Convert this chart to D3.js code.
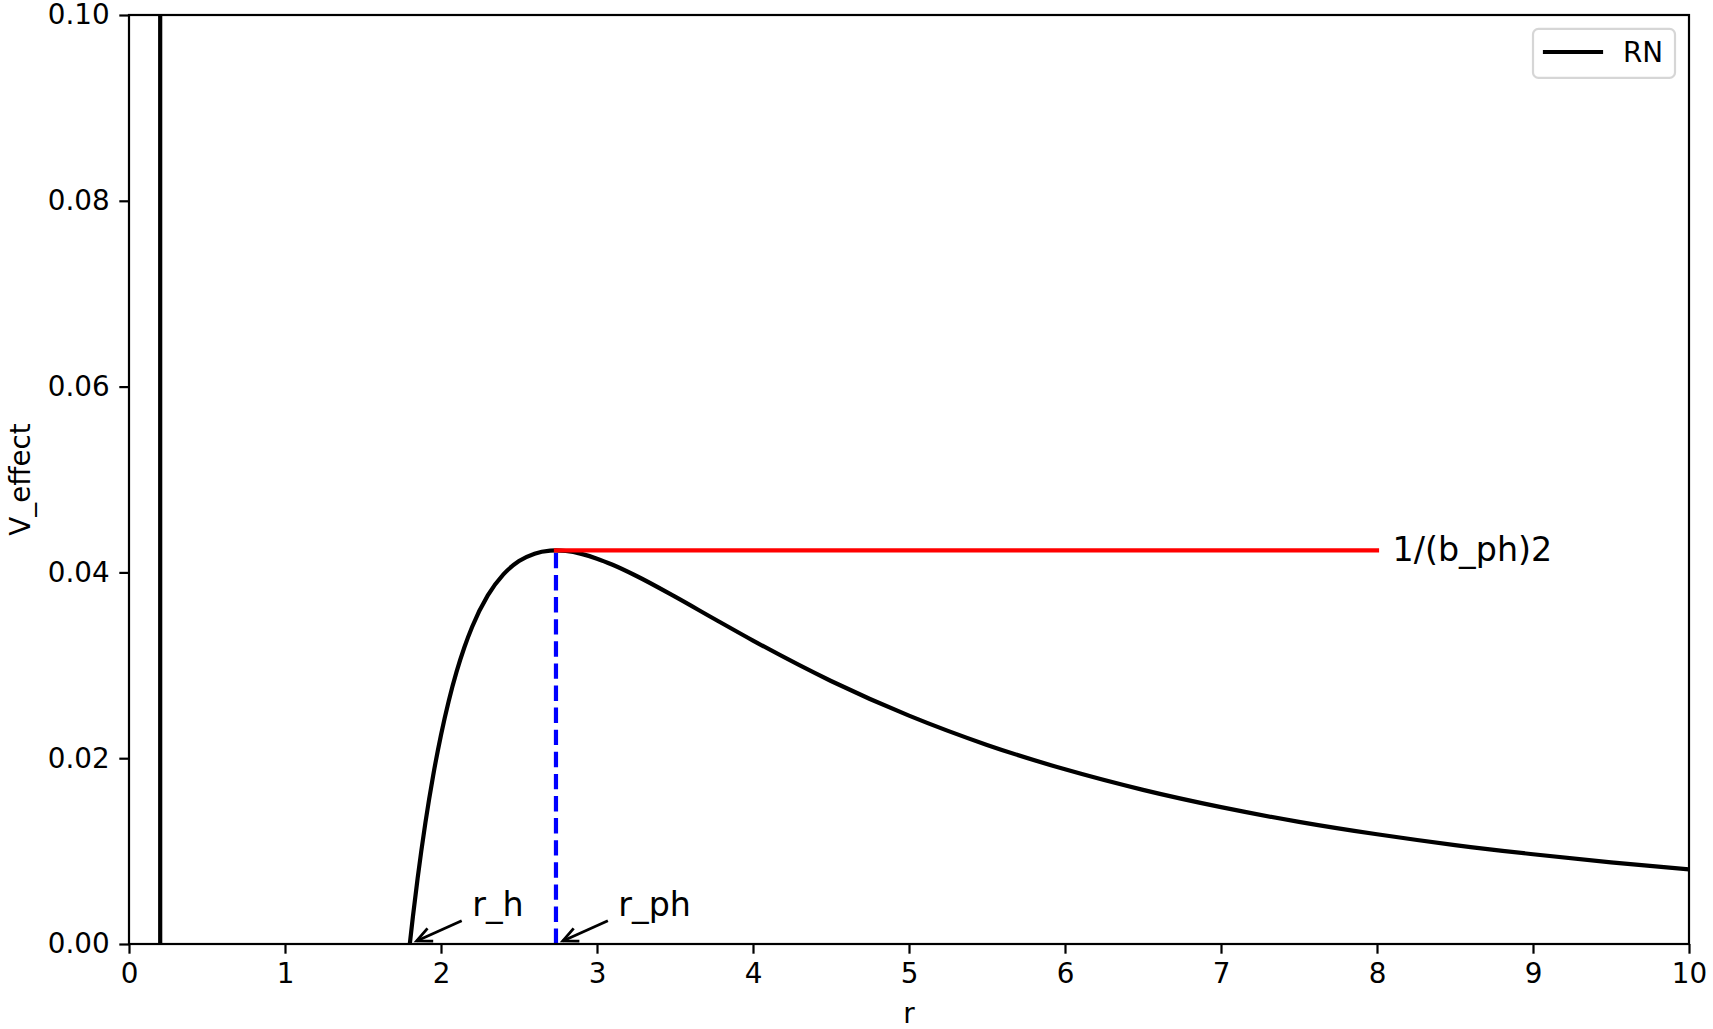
<!DOCTYPE html>
<html>
<head>
<meta charset="utf-8">
<script src="https://cdn.jsdelivr.net/npm/d3@7"></script>
<style>
  body { margin: 0; background: #fff; }
  text { font-family: "DejaVu Sans", sans-serif; }
</style>
</head>
<body>
<script>
// V_effect of the RN curve
const rVals = [0.18, 0.2, 0.3, 0.5, 1.0, 1.5, 1.7, 1.8, 1.82, 1.85, 1.9, 1.95, 2.0, 2.05, 2.1, 2.15, 2.2, 2.3, 2.4, 2.5, 2.6, 2.7, 2.737, 2.8, 2.9, 3.0, 3.1, 3.25, 3.5, 3.75, 4.0, 4.5, 5.0, 5.5, 6.0, 6.5, 7.0, 7.5, 8.0, 8.5, 9.0, 9.5, 10.0];
const vVals = [30.9, 0, -18.5, -6.24, -0.64, -0.077, -0.018, 0, 0.00295, 0.00704, 0.01305, 0.01816, 0.0225, 0.02619, 0.02931, 0.03194, 0.03415, 0.03752, 0.03979, 0.04122, 0.04202, 0.04234, 0.04237, 0.0423, 0.04199, 0.04148, 0.04082, 0.03964, 0.03739, 0.03501, 0.03266, 0.02831, 0.02458, 0.02143, 0.0188, 0.01659, 0.01473, 0.01315, 0.01181, 0.01065, 0.00966, 0.00879, 0.00804];

const rPh = 2.737, vPh = 0.04237, rH = 1.8, hLineEnd = 8;
const xTicks = [0, 1, 2, 3, 4, 5, 6, 7, 8, 9, 10];
const yTicks = [0, 0.02, 0.04, 0.06, 0.08, 0.10];
const labelText = "1/(b_ph)2";
const notes = [
  { label: "r_h", x: rH, tx: 2.2, ty: 0.003 },
  { label: "r_ph", x: rPh, tx: 3.137, ty: 0.003 }
];

const W = 1713, H = 1029;
const pLeft = 129, pRight = 1689, pTop = 15, pBottom = 944;
const fs = 27.8, fsBig = 33.3, lw = 4.2;

const svg = d3.select("body").append("svg")
  .attr("width", W).attr("height", H);

const x = d3.scaleLinear().domain([0, 10]).range([pLeft, pRight]);
const y = d3.scaleLinear().domain([0, 0.1]).range([pBottom, pTop]);

svg.append("defs").append("clipPath").attr("id", "plot")
  .append("rect").attr("x", pLeft).attr("y", pTop)
  .attr("width", pRight - pLeft).attr("height", pBottom - pTop);

const g = svg.append("g").attr("clip-path", "url(#plot)");

// main curve
const pts = rVals.map((r, i) => [r, vVals[i]]);
g.append("path")
  .datum(pts)
  .attr("fill", "none")
  .attr("stroke", "#000")
  .attr("stroke-width", lw)
  .attr("stroke-linejoin", "round")
  .attr("d", d3.line().curve(d3.curveMonotoneX).x(d => x(d[0])).y(d => y(d[1])));

// dashed blue line at r_ph
g.append("line")
  .attr("x1", x(rPh)).attr("x2", x(rPh))
  .attr("y1", y(0)).attr("y2", y(vPh))
  .attr("stroke", "#0000ff").attr("stroke-width", lw)
  .attr("stroke-dasharray", "15.4,6.7");

// red line at the peak
g.append("line")
  .attr("x1", x(rPh)).attr("x2", x(hLineEnd))
  .attr("y1", y(vPh)).attr("y2", y(vPh))
  .attr("stroke", "#ff0000").attr("stroke-width", lw)
  .attr("stroke-linecap", "square");

svg.append("text")
  .attr("x", x(8.1)).attr("y", y(vPh)).attr("dy", "0.32em")
  .attr("font-size", fsBig).text(labelText);

// annotations with arrows
notes.forEach(n => {
  const px = x(n.x), py = y(0);
  const ax = x(n.tx), ay = y(n.ty);
  const dx = ax - px, dy = ay - py, len = Math.hypot(dx, dy);
  const ux = dx / len, uy = dy / len;
  const tipX = px + ux * 7.5, tipY = py + uy * 7.5;
  const tailX = ax - ux * 11.5, tailY = ay - uy * 11.5;
  svg.append("line")
    .attr("x1", tailX).attr("y1", tailY).attr("x2", tipX).attr("y2", tipY)
    .attr("stroke", "#000").attr("stroke-width", 2.8);
  const hl = 15, hw = 7;
  const bx = tipX + ux * hl, by = tipY + uy * hl;
  svg.append("path")
    .attr("d", `M${bx - uy * hw},${by + ux * hw}L${tipX},${tipY}L${bx + uy * hw},${by - ux * hw}`)
    .attr("fill", "none").attr("stroke", "#000").attr("stroke-width", 2.8);
  svg.append("text")
    .attr("x", ax).attr("y", ay)
    .attr("font-size", fsBig).text(n.label);
});

// axes
const xAxis = svg.append("g")
  .attr("transform", `translate(0,${pBottom})`)
  .call(d3.axisBottom(x).tickValues(xTicks).tickFormat(d3.format("d"))
    .tickSize(9.7).tickPadding(9.7));
const yAxis = svg.append("g")
  .attr("transform", `translate(${pLeft},0)`)
  .call(d3.axisLeft(y).tickValues(yTicks).tickFormat(d3.format(".2f"))
    .tickSize(9.7).tickPadding(9.7));
[xAxis, yAxis].forEach(a => {
  a.select(".domain").remove();
  a.selectAll(".tick line").attr("stroke", "#000").attr("stroke-width", 2.2);
  a.selectAll(".tick text").attr("font-size", fs).attr("fill", "#000")
    .style("font-family", "DejaVu Sans");
});

svg.append("rect")
  .attr("x", pLeft).attr("y", pTop)
  .attr("width", pRight - pLeft).attr("height", pBottom - pTop)
  .attr("fill", "none").attr("stroke", "#000").attr("stroke-width", 2.2);

// axis labels
svg.append("text")
  .attr("x", (pLeft + pRight) / 2).attr("y", 1023)
  .attr("text-anchor", "middle").attr("font-size", fs).text("r");
svg.append("text")
  .attr("transform", `translate(30,${(pTop + pBottom) / 2}) rotate(-90)`)
  .attr("text-anchor", "middle").attr("font-size", fs).text("V_effect");

// legend
const lg = svg.append("g");
lg.append("rect")
  .attr("x", 1533).attr("y", 28.9).attr("width", 142).attr("height", 49)
  .attr("rx", 5.5).attr("fill", "#fff")
  .attr("stroke", "#d6d6d6").attr("stroke-width", 2.2);
lg.append("line")
  .attr("x1", 1545).attr("x2", 1601).attr("y1", 52).attr("y2", 52)
  .attr("stroke", "#000").attr("stroke-width", lw).attr("stroke-linecap", "square");
lg.append("text")
  .attr("x", 1623).attr("y", 52).attr("dy", "0.36em")
  .attr("font-size", fs).text("RN");
</script>
</body>
</html>
